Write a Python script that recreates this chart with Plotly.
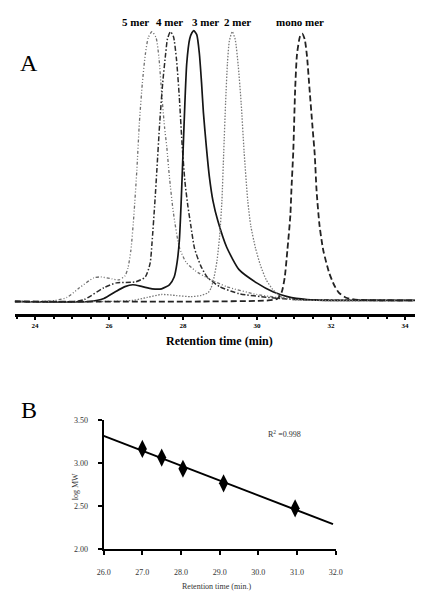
import numpy as np
import plotly.graph_objects as go

# ---------------- Panel A: SEC chromatograms (retention time in min, relative intensity) ----------------
peak_labels = ["5 mer", "4 mer", "3 mer", "2 mer", "mono mer"]

t_5mer = [23.45, 24.03, 24.55, 24.86, 25.20, 25.59, 25.78, 26.07, 26.27, 26.43, 26.51, 26.59, 26.67, 26.75,
          26.82, 26.90, 26.98, 27.06, 27.16, 27.27, 27.35, 27.42, 27.50, 27.56, 27.63, 27.74, 27.90, 28.08,
          28.34, 28.65, 29.18, 29.99, 30.82, 31.87, 34.27]
i_5mer = [0, 0, 0.4, 1.5, 5.1, 8.8, 9.1, 8.4, 8.0, 9.5, 12.4, 19.0, 31.8, 48.5,
          66.4, 81.0, 91.6, 97.8, 100, 97.8, 90.1, 77.4, 64.6, 57.3, 46.4, 32.8, 20.1, 14.6,
          11.3, 8.8, 5.5, 2.6, 1.1, 0.4, 0.4]

t_4mer = [23.45, 25.07, 25.33, 25.86, 26.20, 26.72, 26.98, 27.11, 27.16, 27.24, 27.29, 27.37, 27.45, 27.53,
          27.58, 27.66, 27.74, 27.82, 27.90, 27.97, 28.05, 28.13, 28.21, 28.31, 28.47, 28.65, 28.99, 29.52,
          30.30, 31.08, 34.27]
i_4mer = [0, 0, 0.7, 5.1, 6.9, 7.3, 9.1, 14.2, 21.5, 37.2, 48.2, 66.4, 81.0, 91.9,
          97.4, 100, 98.2, 90.1, 75.5, 59.1, 44.5, 35.4, 28.1, 19.7, 13.5, 9.1, 5.5, 2.9,
          1.5, 0.7, 0.4]

t_3mer = [23.45, 25.46, 25.86, 26.17, 26.43, 26.64, 26.90, 27.16, 27.42, 27.63, 27.76, 27.84, 27.90, 27.95,
          28.00, 28.05, 28.10, 28.18, 28.24, 28.29, 28.37, 28.44, 28.50, 28.55, 28.63, 28.71, 28.81, 28.94,
          29.18, 29.52, 29.99, 30.43, 30.82, 31.35, 32.13, 34.27]
i_3mer = [0, 0, 1.1, 3.6, 5.5, 6.2, 5.5, 4.7, 4.7, 6.2, 9.1, 14.6, 22.6, 37.2,
          55.5, 73.7, 88.3, 97.4, 99.6, 100.4, 98.9, 92.0, 81.0, 70.1, 57.3, 46.4, 37.2, 29.9,
          20.1, 11.7, 6.9, 3.6, 1.8, 0.7, 0.4, 0.4]

t_2mer = [23.45, 25.86, 26.64, 27.03, 27.42, 27.82, 28.21, 28.47, 28.68, 28.76, 28.84, 28.92, 28.99, 29.05,
          29.10, 29.15, 29.20, 29.25, 29.33, 29.41, 29.49, 29.57, 29.65, 29.75, 29.83, 29.96, 30.09, 30.25,
          30.43, 30.64, 30.95, 31.61, 34.27]
i_2mer = [0, 0, 0.4, 1.5, 2.6, 2.2, 1.8, 2.2, 3.3, 5.1, 9.1, 15.3, 24.5, 37.2,
          55.5, 73.7, 88.3, 96.4, 100, 97.1, 87.6, 73.7, 55.5, 37.2, 28.1, 19.7, 13.5, 8.0,
          4.4, 1.8, 0.7, 0.4, 0.4]

t_mono = [23.45, 28.47, 30.30, 30.56, 30.67, 30.75, 30.82, 30.90, 30.93, 30.98, 31.03, 31.08, 31.16, 31.22,
          31.29, 31.35, 31.42, 31.50, 31.56, 31.61, 31.69, 31.79, 31.95, 32.08, 32.21, 32.39, 32.65, 34.27]
i_mono = [0, 0, 0.4, 1.1, 3.6, 9.1, 19.0, 31.8, 41.6, 55.8, 78.5, 91.6, 98.2, 99.3,
          97.1, 90.9, 78.5, 64.6, 54.4, 40.9, 28.1, 19.0, 10.6, 6.2, 3.3, 1.5, 0.7, 0.4]

a_ticks = [24, 26, 28, 30, 32, 34]
a_ticktext = ["24", "26", "28", "30", "32", "34"]

# ---------------- Panel B: calibration ----------------
rt = [27.0, 27.5, 28.05, 29.1, 30.95]
log_mw = [3.16, 3.06, 2.93, 2.76, 2.47]
fit_range = [26.0, 31.93]
r2_label = "R<sup>2</sup> =0.998"
b_xticks = [26, 27, 28, 29, 30, 31, 32]
b_yticks = [2.0, 2.5, 3.0, 3.5]

slope, intercept = np.polyfit(rt, log_mw, 1)
fit_y = [slope * x + intercept for x in fit_range]

W, H = 422, 602
def px(x):
    return x / W
def py(y):
    return 1 - y / H

SERIF = "Liberation Serif"

fig = go.Figure()

styles = [
    (t_5mer, i_5mer, dict(color="#6f6f6f", width=1.3, dash="3px,2px,1px,2px,1px,2px")),
    (t_4mer, i_4mer, dict(color="#2a2a2a", width=1.5, dash="5px,2px,1.5px,2px")),
    (t_3mer, i_3mer, dict(color="#151515", width=1.7, dash="solid")),
    (t_2mer, i_2mer, dict(color="#7a7a7a", width=1.3, dash="1.5px,1.5px")),
    (t_mono, i_mono, dict(color="#222222", width=1.8, dash="6px,3px")),
]
for (t, i, ln), name in zip(styles, peak_labels):
    fig.add_trace(go.Scatter(x=t, y=i, mode="lines", name=name,
                             line=dict(shape="spline", smoothing=0.6, **ln),
                             xaxis="x", yaxis="y", showlegend=False))

fig.add_trace(go.Scatter(x=fit_range, y=fit_y, mode="lines",
                         line=dict(color="black", width=2),
                         xaxis="x2", yaxis="y2", showlegend=False))
fig.add_trace(go.Scatter(x=rt, y=log_mw, mode="markers",
                         marker=dict(symbol="diamond-tall", size=13, color="black"),
                         xaxis="x2", yaxis="y2", showlegend=False))

def ann(text, x, y, size, color="black", weight="normal", angle=0):
    return dict(text=text, x=px(x), y=py(y), xref="paper", yref="paper", showarrow=False,
                xanchor="center", yanchor="middle", textangle=angle,
                font=dict(family=SERIF, size=size, color=color, weight=weight))

annotations = []
label_pos = [(133, 18), (168, 18), (205, 18), (238, 18), (303, 18)]
for lab, (x, y) in zip(peak_labels, label_pos):
    annotations.append(ann(lab, x, y, 11, weight="bold"))
annotations += [
    ann("A", 23, 60, 24),
    ann("B", 23, 412, 24),
    ann("Retention time (min)", 220, 342, 12, weight="bold"),
    ann("Retention time (min.)", 217, 591, 8, color="#333"),
    ann("log MW", 71, 490, 8, color="#333", angle=-90),
    ann(r2_label, 287, 437, 8, color="#333"),
]

fig.update_layout(
    width=W, height=H, autosize=False,
    margin=dict(l=0, r=0, t=0, b=0),
    paper_bgcolor="white", plot_bgcolor="white",
    annotations=annotations,
    xaxis=dict(domain=[px(8), 1.0], anchor="y", range=[23.45, 34.27],
               showline=True, linewidth=2.5, linecolor="black",
               ticks="outside", ticklen=3, tickwidth=1.5, tickcolor="black",
               tickvals=a_ticks, ticktext=a_ticktext,
               tickfont=dict(family=SERIF, size=7, color="black", weight="bold"),
               minor=dict(dtick=0.5, ticks="outside", ticklen=2, tickcolor="black", showgrid=False),
               showgrid=False, zeroline=False, ticklabelstandoff=0),
    yaxis=dict(domain=[py(315), py(10)], anchor="x", range=[-4.74, 106.6], visible=False),
    xaxis2=dict(domain=[px(100), px(340)], anchor="y2", range=[26, 32],
                showline=True, linewidth=2, linecolor="black",
                ticks="outside", ticklen=4, tickwidth=1.5, tickcolor="black",
                tickvals=b_xticks, tickformat=".1f",
                tickfont=dict(family=SERIF, size=8, color="#333"),
                showgrid=False, zeroline=False, ticklabelstandoff=11),
    yaxis2=dict(domain=[py(553), py(422)], anchor="x2", range=[2.0, 3.5],
                showline=True, linewidth=2, linecolor="black",
                ticks="outside", ticklen=4, tickwidth=1.5, tickcolor="black",
                tickvals=b_yticks, tickformat=".2f",
                tickfont=dict(family=SERIF, size=8, color="#333"),
                showgrid=False, zeroline=False, ticklabelstandoff=8),
)

fig.write_html("out.html", config={"displayModeBar": False},
               post_script="document.body.style.margin='0';document.body.style.overflow='hidden';")
